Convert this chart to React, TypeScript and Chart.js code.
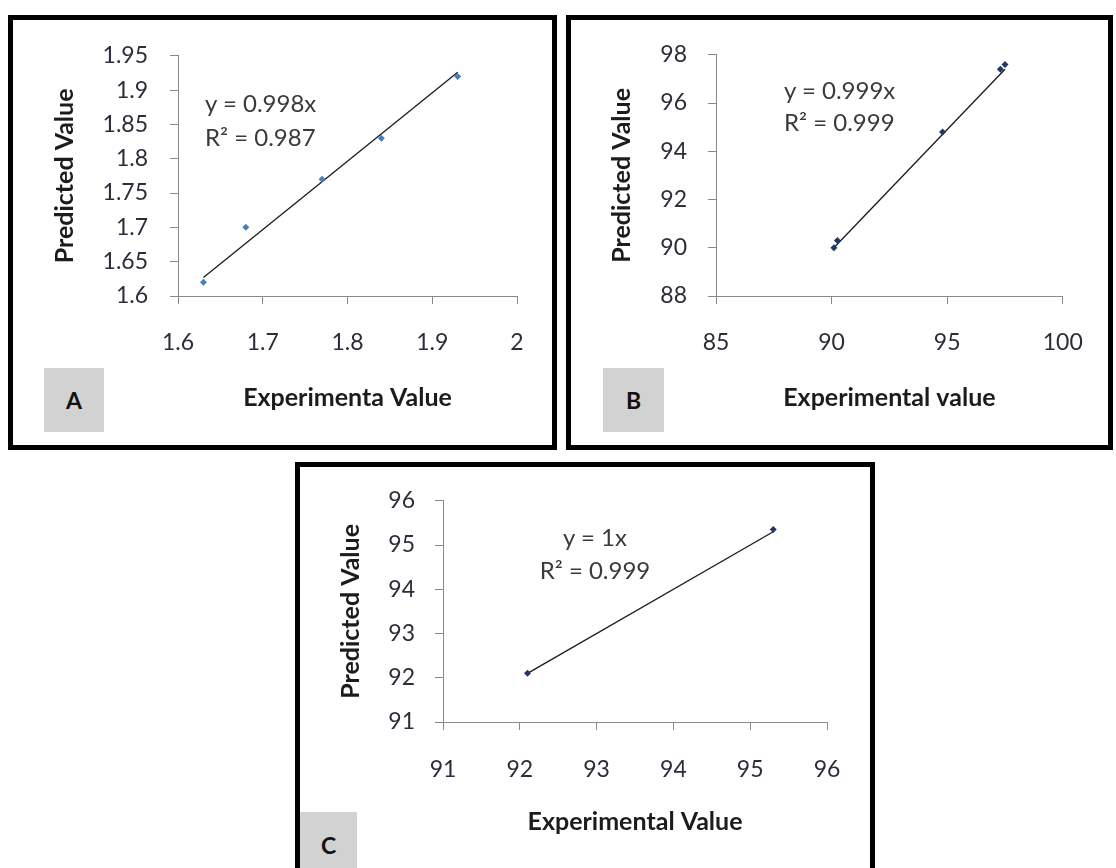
import React, { useEffect, useRef } from "react";
import { Chart, registerables } from "chart.js";

Chart.register(...registerables);

// ---------- Data ----------
// Panel A
const expA = [1.63, 1.68, 1.77, 1.84, 1.93];
const predA = [1.62, 1.7, 1.77, 1.83, 1.92];
const trendXA = [1.63, 1.93];
const trendYA = [1.627, 1.926];
const xTicksA = [1.6, 1.7, 1.8, 1.9, 2];
const yTicksA = [1.6, 1.65, 1.7, 1.75, 1.8, 1.85, 1.9, 1.95];
const eqA = ["y = 0.998x", "R\u00B2 = 0.987"];

// Panel B
const expB = [90.1, 90.25, 94.8, 97.3, 97.5];
const predB = [90.0, 90.3, 94.8, 97.4, 97.6];
const trendXB = [90.1, 97.5];
const trendYB = [90.0, 97.4];
const xTicksB = [85, 90, 95, 100];
const yTicksB = [88, 90, 92, 94, 96, 98];
const eqB = ["y = 0.999x", "R\u00B2 = 0.999"];

// Panel C
const expC = [92.1, 95.3];
const predC = [92.1, 95.35];
const trendXC = [92.1, 95.3];
const trendYC = [92.1, 95.3];
const xTicksC = [91, 92, 93, 94, 95, 96];
const yTicksC = [91, 92, 93, 94, 95, 96];
const eqC = ["y = 1x", "R\u00B2 = 0.999"];

// ---------- Layout / style (page coordinates) ----------
const FONT = "Lato, 'Open Sans', sans-serif";
const TICK_SIZE = 23;
const TITLE_SIZE = 25;
const EQ_SIZE = 24;
const TICK_LEN = 8;
const AXIS_COLOR = "#8a8a8a";

type Rect = { left: number; top: number; width: number; height: number };
type PanelSpec = {
  letter: string;
  outer: Rect;
  border: number;
  canvasH?: number;
  area: { left: number; right: number; top: number; bottom: number };
  yTitleX: number;
  xTitleY: number;
  yLabelRight: number;
  xLabelY: number;
  box: Rect;
  letterY: number;
  eqX: number;
  eqY: number[];
  eqAlign: "left" | "center";
  xTitle: string;
  yTitle: string;
  pointColor: string;
  exp: number[];
  pred: number[];
  trendX: number[];
  trendY: number[];
  xTicks: number[];
  yTicks: number[];
  eq: string[];
};

const panels: PanelSpec[] = [
  {
    letter: "A",
    outer: { left: 8, top: 15, width: 549, height: 435 },
    border: 5,
    area: { left: 178, right: 517, top: 48, bottom: 296 },
    yTitleX: 65,
    xTitleY: 398,
    yLabelRight: 148,
    xLabelY: 343,
    box: { left: 44, top: 368, width: 60, height: 64 },
    letterY: 400,
    eqX: 205,
    eqY: [103, 137],
    eqAlign: "left",
    xTitle: "Experimenta Value",
    yTitle: "Predicted Value",
    pointColor: "#4a7ebb",
    exp: expA,
    pred: predA,
    trendX: trendXA,
    trendY: trendYA,
    xTicks: xTicksA,
    yTicks: yTicksA,
    eq: eqA,
  },
  {
    letter: "B",
    outer: { left: 566, top: 15, width: 547, height: 435 },
    border: 5,
    area: { left: 716, right: 1077, top: 48, bottom: 296 },
    yTitleX: 622,
    xTitleY: 398,
    yLabelRight: 687,
    xLabelY: 343,
    box: { left: 603, top: 368, width: 61, height: 64 },
    letterY: 400,
    eqX: 784,
    eqY: [90, 122],
    eqAlign: "left",
    xTitle: "Experimental value",
    yTitle: "Predicted Value",
    pointColor: "#1f3864",
    exp: expB,
    pred: predB,
    trendX: trendXB,
    trendY: trendYB,
    xTicks: xTicksB,
    yTicks: yTicksB,
    eq: eqB,
  },
  {
    letter: "C",
    outer: { left: 295, top: 462, width: 580, height: 430 },
    border: 5,
    canvasH: 401,
    area: { left: 443, right: 827, top: 493, bottom: 722 },
    yTitleX: 351,
    xTitleY: 822,
    yLabelRight: 415,
    xLabelY: 770,
    box: { left: 300, top: 812, width: 57, height: 70 },
    letterY: 845,
    eqX: 595,
    eqY: [537, 570],
    eqAlign: "center",
    xTitle: "Experimental Value",
    yTitle: "Predicted Value",
    pointColor: "#1f3864",
    exp: expC,
    pred: predC,
    trendX: trendXC,
    trendY: trendYC,
    xTicks: xTicksC,
    yTicks: yTicksC,
    eq: eqC,
  },
];

function Panel({ p }: { p: PanelSpec }) {
  const ref = useRef<HTMLCanvasElement | null>(null);
  const inner = {
    left: p.outer.left + p.border,
    top: p.outer.top + p.border,
    width: p.outer.width - 2 * p.border,
    height: p.outer.height - 2 * p.border,
  };
  const cw = inner.width;
  const ch = p.canvasH ?? inner.height;

  useEffect(() => {
    if (!ref.current) return;
    const a = {
      left: p.area.left - inner.left,
      right: p.area.right - inner.left,
      top: p.area.top - inner.top,
      bottom: p.area.bottom - inner.top,
    };
    const titleLH = TITLE_SIZE * 1.2;
    const tickLH = TICK_SIZE * 1.2;
    const yTitlePad = p.yTitleX - inner.left - titleLH / 2;
    const xTitlePad = ch - (p.xTitleY - inner.top) - titleLH / 2;
    const yTickPad = a.left - TICK_LEN - (p.yLabelRight - inner.left);
    const xTickPad = p.xLabelY - inner.top - a.bottom - TICK_LEN - tickLH / 2;
    const xMin = p.xTicks[0];
    const xMax = p.xTicks[p.xTicks.length - 1];
    const yMin = p.yTicks[0];
    const yMax = p.yTicks[p.yTicks.length - 1];

    const chart = new Chart(ref.current, {
      type: "scatter",
      data: {
        datasets: [
          {
            data: p.trendX.map((x, i) => ({ x, y: p.trendY[i] })),
            showLine: true,
            pointRadius: 0,
            borderColor: "#1a1a1a",
            borderWidth: 1.3,
            order: 1,
          },
          {
            data: p.exp.map((x, i) => ({ x, y: p.pred[i] })),
            pointStyle: "rectRot",
            pointRadius: 3.5,
            backgroundColor: p.pointColor,
            borderColor: p.pointColor,
            borderWidth: 0,
            order: 0,
          },
        ],
      },
      options: {
        responsive: false,
        maintainAspectRatio: false,
        animation: false,
        events: [],
        layout: { padding: { left: 0, top: a.top, right: cw - a.right, bottom: 0 } },
        plugins: { legend: { display: false }, tooltip: { enabled: false }, title: { display: false } },
        scales: {
          x: {
            type: "linear",
            min: xMin,
            max: xMax,
            afterBuildTicks: (s: any) => {
              s.ticks = p.xTicks.map((v) => ({ value: v }));
            },
            afterFit: (s: any) => {
              s.height = ch - a.bottom;
            },
            grid: { display: true, drawOnChartArea: false, drawTicks: true, tickLength: TICK_LEN, color: AXIS_COLOR },
            border: { display: true, color: AXIS_COLOR, width: 1 },
            ticks: {
              padding: xTickPad,
              color: "#2f2b3a",
              font: { family: FONT, size: TICK_SIZE, lineHeight: 1.2 },
              maxRotation: 0,
              callback: (v: any) => String(v),
            },
            title: {
              display: true,
              text: p.xTitle,
              color: "#1c1c1c",
              font: { family: FONT, size: TITLE_SIZE, weight: "bold", lineHeight: 1.2 },
              padding: { top: 0, bottom: xTitlePad },
            },
          },
          y: {
            type: "linear",
            min: yMin,
            max: yMax,
            afterBuildTicks: (s: any) => {
              s.ticks = p.yTicks.map((v) => ({ value: v }));
            },
            afterFit: (s: any) => {
              s.width = a.left;
            },
            grid: { display: true, drawOnChartArea: false, drawTicks: true, tickLength: TICK_LEN, color: AXIS_COLOR },
            border: { display: true, color: AXIS_COLOR, width: 1 },
            ticks: {
              padding: yTickPad,
              color: "#2f2b3a",
              font: { family: FONT, size: TICK_SIZE, lineHeight: 1.2 },
              callback: (v: any) => String(v),
            },
            title: {
              display: true,
              text: p.yTitle,
              color: "#1c1c1c",
              font: { family: FONT, size: TITLE_SIZE, weight: "bold", lineHeight: 1.2 },
              padding: { top: yTitlePad, bottom: 0 },
            },
          },
        },
      } as any,
    });
    return () => chart.destroy();
  }, []);

  const eqLH = 30;
  return (
    <>
      <div
        style={{
          position: "absolute",
          left: p.outer.left,
          top: p.outer.top,
          width: p.outer.width,
          height: p.outer.height,
          boxSizing: "border-box",
          border: `${p.border}px solid #000`,
          background: "#fff",
        }}
      />
      <canvas
        ref={ref}
        width={cw}
        height={ch}
        style={{ position: "absolute", left: inner.left, top: inner.top, width: cw, height: ch }}
      />
      <div
        style={{
          position: "absolute",
          left: p.box.left,
          top: p.box.top,
          width: p.box.width,
          height: p.box.height,
          background: "#d2d2d2",
        }}
      />
      <div
        style={{
          position: "absolute",
          left: p.box.left,
          top: p.letterY - 15,
          width: p.box.width,
          height: 30,
          lineHeight: "30px",
          textAlign: "center",
          fontFamily: FONT,
          fontWeight: "bold",
          fontSize: 23,
          color: "#111",
        }}
      >
        {p.letter}
      </div>
      {p.eq.map((t, i) => (
        <div
          key={i}
          style={{
            position: "absolute",
            left: p.eqAlign === "left" ? p.eqX : p.eqX - 150,
            width: p.eqAlign === "left" ? undefined : 300,
            top: p.eqY[i] - eqLH / 2,
            height: eqLH,
            lineHeight: `${eqLH}px`,
            textAlign: p.eqAlign,
            whiteSpace: "nowrap",
            fontFamily: FONT,
            fontSize: EQ_SIZE,
            color: "#3a3a3a",
          }}
        >
          {t}
        </div>
      ))}
    </>
  );
}

export default function App() {
  return (
    <div
      style={{
        position: "fixed",
        left: 0,
        top: 0,
        width: 1116,
        height: 868,
        overflow: "hidden",
        background: "#fff",
      }}
    >
      {panels.map((p) => (
        <Panel key={p.letter} p={p} />
      ))}
    </div>
  );
}
